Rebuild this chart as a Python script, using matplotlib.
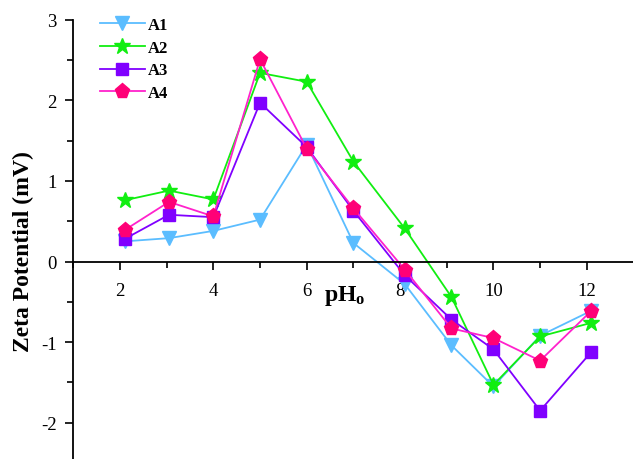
import numpy as np
import matplotlib
matplotlib.use("Agg")
import matplotlib.pyplot as plt
from matplotlib.ticker import MultipleLocator

plt.rcParams["font.family"] = ["Liberation Serif", "DejaVu Serif"]
plt.rcParams["mathtext.fontset"] = "custom"
plt.rcParams["mathtext.rm"] = "Liberation Serif"
plt.rcParams["mathtext.bf"] = "Liberation Serif:bold"
plt.rcParams["axes.unicode_minus"] = False

# pH values of the measurements
ph = [2.1, 3.05, 4.0, 5.0, 6.0, 7.0, 8.1, 9.1, 10.0, 11.0, 12.1]

# zeta potential (mV) per sample
a1 = [0.25, 0.29, 0.38, 0.52, 1.45, 0.23, -0.28, -1.04, -1.55, -0.92, -0.61]
a2 = [0.76, 0.88, 0.77, 2.34, 2.23, 1.24, 0.41, -0.44, -1.53, -0.93, -0.76]
a3 = [0.28, 0.58, 0.55, 1.97, 1.42, 0.63, -0.17, -0.72, -1.09, -1.85, -1.12]
a4 = [0.39, 0.74, 0.56, 2.51, 1.40, 0.66, -0.10, -0.83, -0.95, -1.23, -0.61]

labels = ["A1", "A2", "A3", "A4"]

fig = plt.figure(figsize=(6.33, 4.60), dpi=100)
ax = fig.add_axes([0.1158, 0.0, 0.885, 0.955])

styles = [
    dict(color="#5BBDFF", marker="v", ms=10.5, mfc="#5BBDFF", mec="#5BBDFF"),
    dict(color="#11EE11", marker="*", ms=12, mfc="#11EE11", mec="#11EE11"),
    dict(color="#8000FF", marker="s", ms=8.5, mfc="#8000FF", mec="#8000FF"),
    dict(color="#FF22CC", marker="p", ms=11, mfc="#FF0077", mec="#FF0077"),
]

for y, lab, st in zip([a1, a2, a3, a4], labels, styles):
    ax.plot(ph, y, lw=1.3, label=lab, **st)

ax.set_xlim(1, 13)
ax.set_ylim(-2.45, 3)

# axes look: left spine + x axis through zero
ax.spines["top"].set_visible(False)
ax.spines["right"].set_visible(False)
ax.spines["bottom"].set_position(("data", 0))
ax.spines["left"].set_linewidth(1.3)
ax.spines["bottom"].set_linewidth(1.3)

ax.xaxis.set_major_locator(MultipleLocator(2))
ax.xaxis.set_minor_locator(MultipleLocator(1))
ax.yaxis.set_major_locator(MultipleLocator(1))
ax.yaxis.set_minor_locator(MultipleLocator(0.5))
ax.set_xticks([2, 4, 6, 8, 10, 12])
ax.tick_params(which="major", direction="out", length=6, width=1.2, labelsize=13.5)
ax.tick_params(which="minor", direction="out", length=4, width=1.2)
ax.tick_params(axis="x", pad=9)
ax.tick_params(axis="y", pad=6)

ax.set_ylabel("Zeta Potential (mV)", fontsize=17, fontweight="bold")
ax.yaxis.set_label_coords(-0.07, 0.474)
ax.text(6.82, -0.42, r"$\mathbf{pH_o}$", fontsize=17, ha="center", va="center")

leg = ax.legend(loc="upper left", bbox_to_anchor=(0.02, 1.04), frameon=False,
                handlelength=2.7, handletextpad=0.2, labelspacing=0.4,
                prop={"weight": "bold", "size": 12})

fig.savefig("out.png", dpi=100)
